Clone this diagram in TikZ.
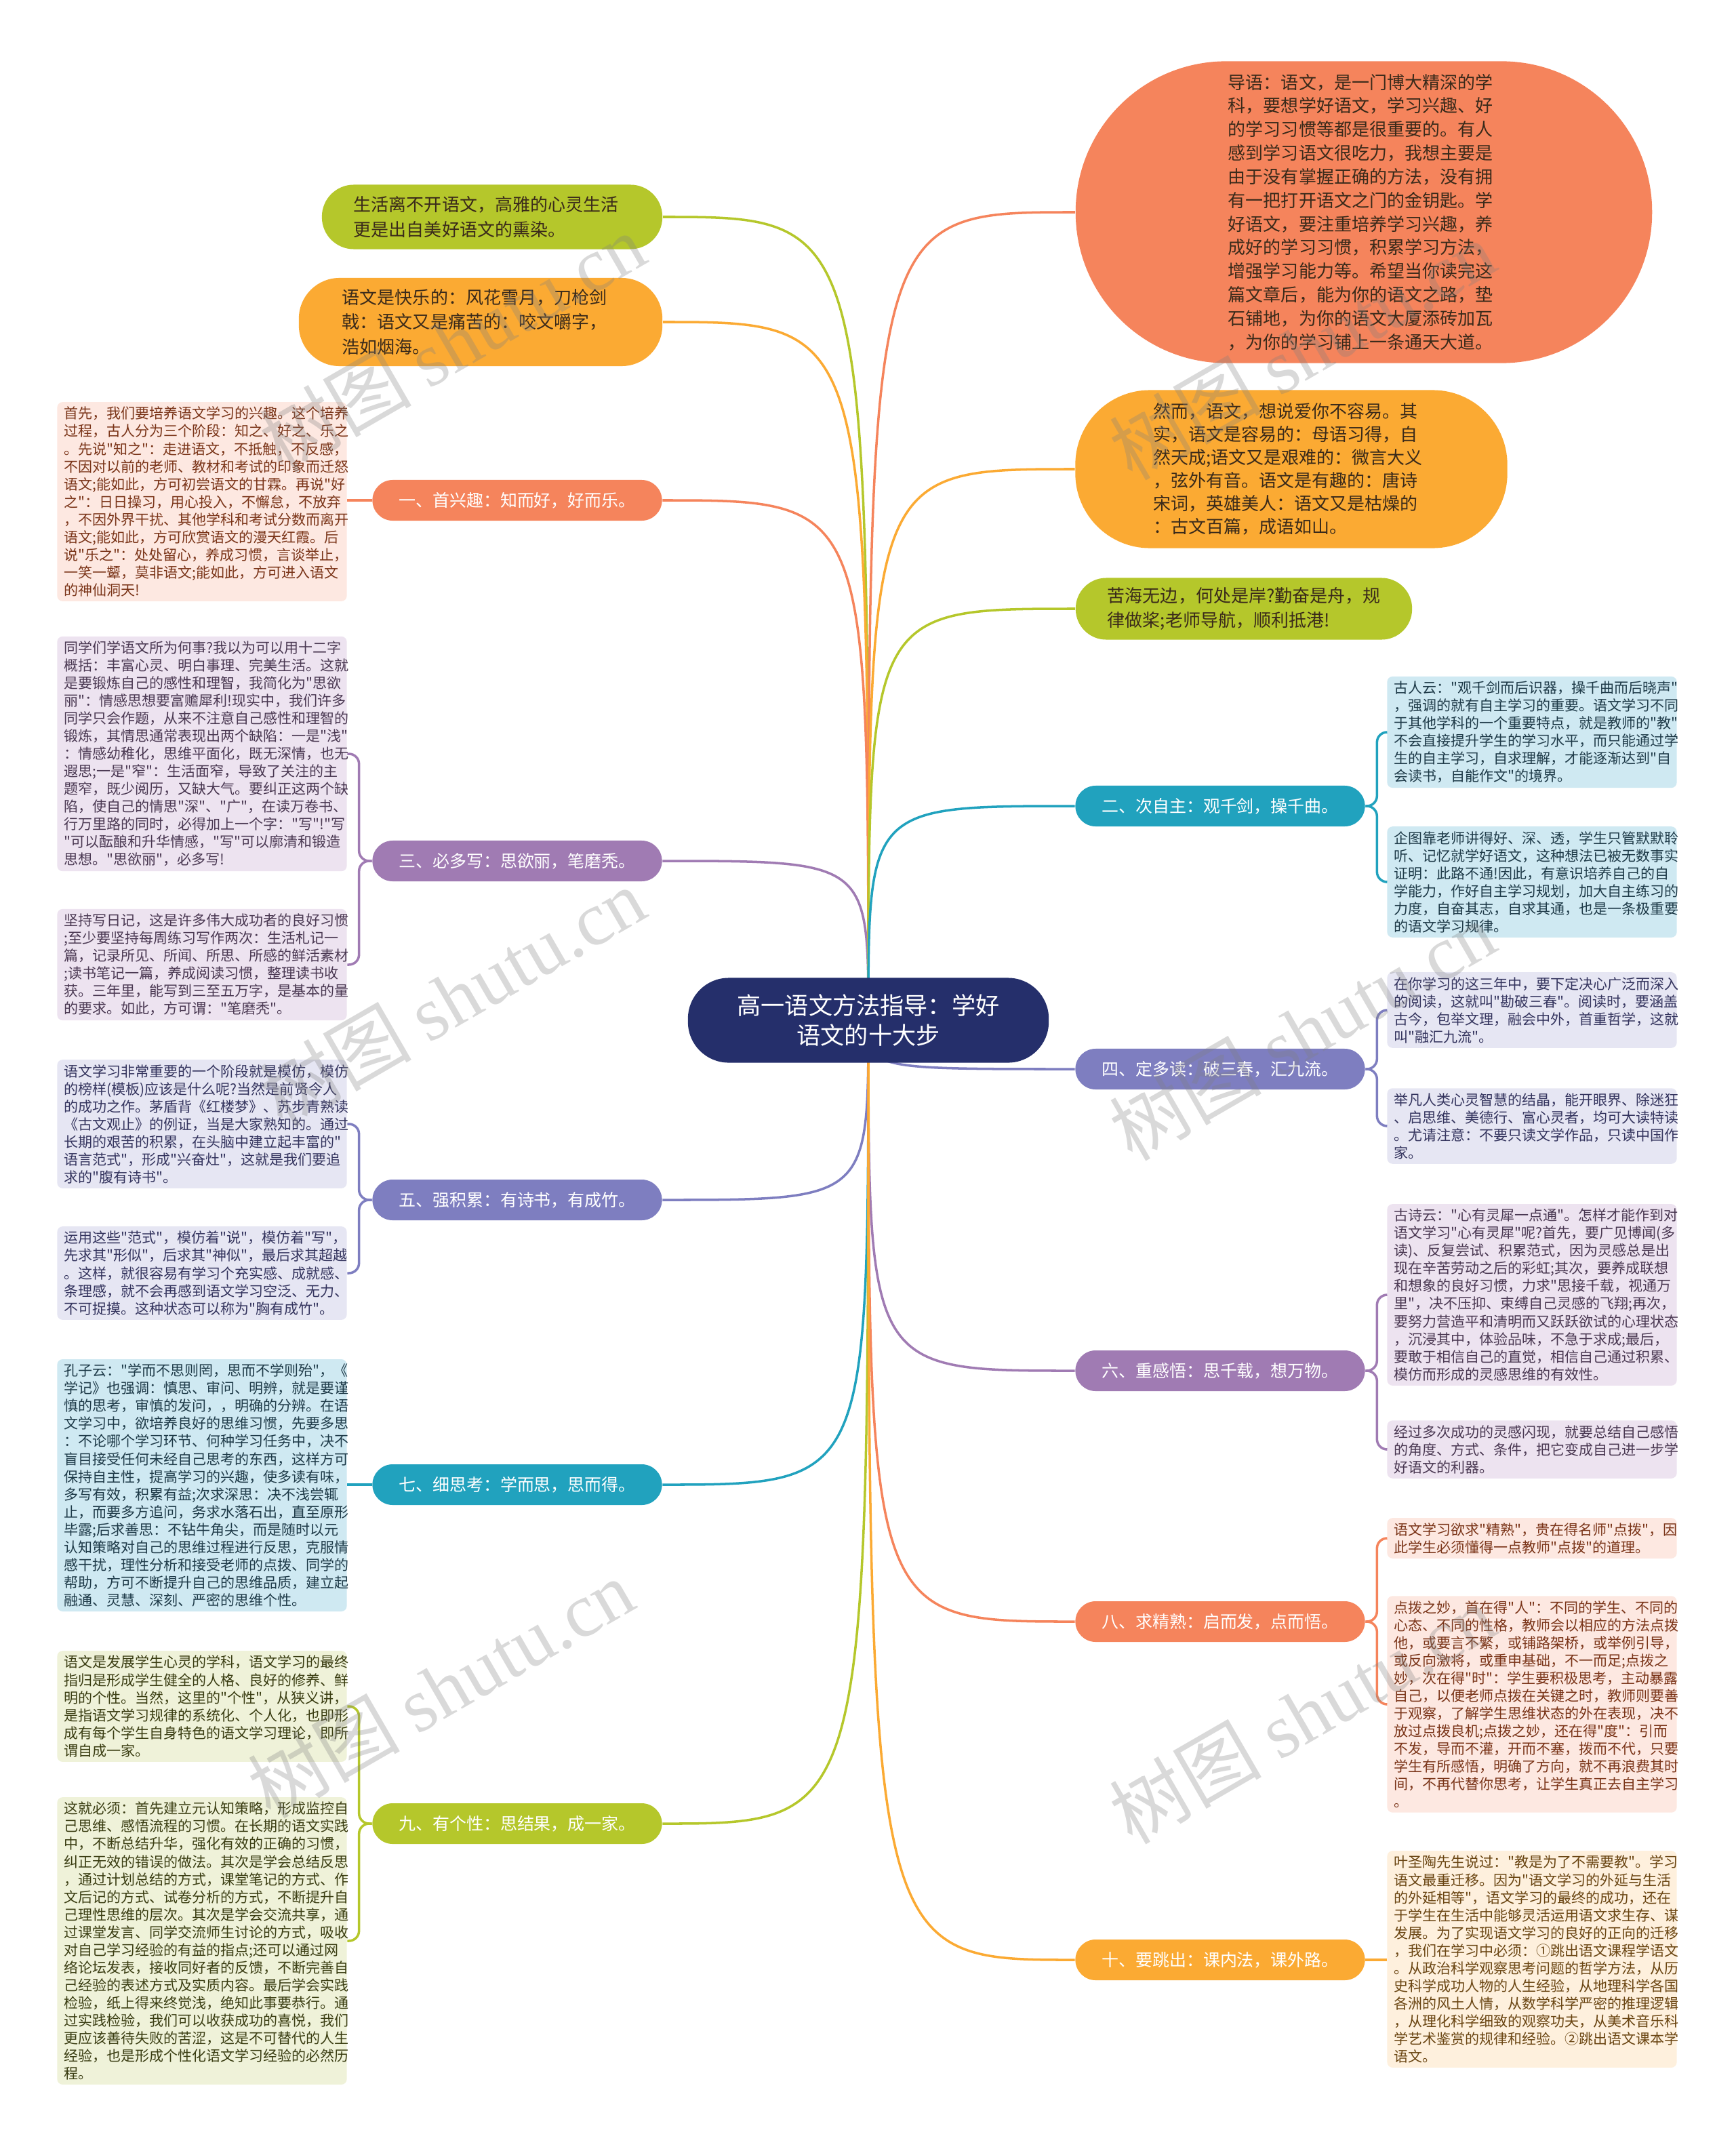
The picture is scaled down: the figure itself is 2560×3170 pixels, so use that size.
\documentclass[tikz,border=0pt]{standalone}
\usepackage{fontspec}
\setmainfont{Noto Sans CJK SC}[Ligatures=TeXOff]
\newfontfamily\markfont{Liberation Serif}
\usetikzlibrary{backgrounds}

\definecolor{cNavy}{HTML}{252F6B}
\definecolor{cCoral}{HTML}{F5845C}
\definecolor{cAmber}{HTML}{FBAA33}
\definecolor{cLime}{HTML}{B5C72B}
\definecolor{cPlum}{HTML}{A07BB3}
\definecolor{cIris}{HTML}{7E7EC0}
\definecolor{cTeal}{HTML}{21A2BE}
\definecolor{lCoral}{HTML}{FDE8E1}
\definecolor{lAmber}{HTML}{FEF0DD}
\definecolor{lLime}{HTML}{EFF2D9}
\definecolor{lPlum}{HTML}{EDE3F0}
\definecolor{lIris}{HTML}{E6E6F3}
\definecolor{lTeal}{HTML}{CFE9F2}
\definecolor{tCoral}{HTML}{7A3418}
\definecolor{tAmber}{HTML}{6A4512}
\definecolor{tLime}{HTML}{3A3D12}
\definecolor{tPlum}{HTML}{4A3852}
\definecolor{tIris}{HTML}{34345E}
\definecolor{tTeal}{HTML}{1E3A48}
\definecolor{tDark}{HTML}{3A2A1A}

\tikzset{
	rootbox/.style = {
		fill=cNavy,
		text=white,
		rounded corners=0.6cm,
		minimum width=5.32cm,
		minimum height=1.25cm,
		align=center,
		font=\fontsize{10pt}{12.5pt}\selectfont
	},
	branch/.style = {
		fill=#1,
		text=white,
		rounded corners=0.3cm,
		minimum width=4.27cm,
		minimum height=0.6cm,
		inner sep=0pt,
		font=\fontsize{7.1pt}{8.5pt}\selectfont
	},
	detail/.style 2 args = {
		fill=#1,
		text=#2,
		rounded corners=0.08cm,
		text width=4.07cm,
		inner xsep=0.1cm,
		inner ysep=0.07cm,
		align=left,
		font=\fontsize{5.98pt}{7.4pt}\selectfont
	},
	bubble/.style = {
		text=tDark,
		align=left,
		font=\fontsize{7.4pt}{10.4pt}\selectfont
	},
	link/.style = {
		draw=#1,
		line width=1pt
	},
	tie/.style = {
		draw=#1,
		line width=1pt,
		rounded corners=0.15cm
	},
	wmark/.style = {
		text=gray,
		text opacity=0.3,
		rotate=30,
		font=\fontsize{32pt}{32pt}\selectfont
	}
}

\begin{document}
\begin{tikzpicture}[x=0.01cm, y=-0.01cm]
	\useasboundingbox (0,0) rectangle (2560,3170);
	
	% --- Tema central ---
	\node [rootbox] (root) at (1281,1505) {高一语文方法指导：学好\\语文的十大步};
	
	% --- Notas sueltas (arriba) ---
	\node [bubble, fill=cLime, rounded corners=0.47cm, text width=4.08cm, inner xsep=0.47cm, minimum height=0.95cm] (life) at (726,320)
	{生活离不开语文，高雅的心灵生活\\更是出自美好语文的熏染。};
	\node [bubble, fill=cAmber, rounded corners=0.6cm, text width=4.08cm, inner xsep=0.64cm, minimum height=1.3cm] (joy) at (709,475)
	{语文是快乐的：风花雪月，刀枪剑\\戟：语文又是痛苦的：咬文嚼字，\\浩如烟海。};
	\node [bubble, fill=cCoral, rounded corners=2.22cm, text width=4.0cm, inner xsep=2.25cm, minimum height=4.45cm, font=\fontsize{7.4pt}{9.9pt}\selectfont] (intro) at (2012,313)
	{导语：语文，是一门博大精深的学\\科，要想学好语文，学习兴趣、好\\的学习习惯等都是很重要的。有人\\感到学习语文很吃力，我想主要是\\由于没有掌握正确的方法，没有拥\\有一把打开语文之门的金钥匙。学\\好语文，要注重培养学习兴趣，养\\成好的学习习惯，积累学习方法，\\增强学习能力等。希望当你读完这\\篇文章后，能为你的语文之路，垫\\石铺地，为你的语文大厦添砖加瓦\\，为你的学习铺上一条通天大道。};
	\node [bubble, fill=cAmber, rounded corners=1.1cm, text width=4.07cm, inner xsep=1.15cm, minimum height=2.33cm, font=\fontsize{7.4pt}{9.7pt}\selectfont] (however) at (1905,692)
	{然而，语文，想说爱你不容易。其\\实，语文是容易的：母语习得，自\\然天成;语文又是艰难的：微言大义\\，弦外有音。语文是有趣的：唐诗\\宋词，英雄美人：语文又是枯燥的\\：古文百篇，成语如山。};
	\node [bubble, fill=cLime, rounded corners=0.45cm, text width=4.02cm, inner xsep=0.47cm, minimum height=0.91cm] (sea) at (1835,898)
	{苦海无边，何处是岸?勤奋是舟，规\\律做桨;老师导航，顺利抵港!};
	
	% --- Ramas izquierda ---
	\node [branch=cCoral] (br1) at (763,738) {一、首兴趣：知而好，好而乐。};
	\node [branch=cPlum] (br3) at (763,1270) {三、必多写：思欲丽，笔磨秃。};
	\node [branch=cIris] (br5) at (763,1770) {五、强积累：有诗书，有成竹。};
	\node [branch=cTeal] (br7) at (763,2190) {七、细思考：学而思，思而得。};
	\node [branch=cLime] (br9) at (763,2690) {九、有个性：思结果，成一家。};
	
	% --- Ramas derecha ---
	\node [branch=cTeal] (br2) at (1800,1189) {二、次自主：观千剑，操千曲。};
	\node [branch=cIris] (br4) at (1800,1577) {四、定多读：破三春，汇九流。};
	\node [branch=cPlum] (br6) at (1800,2022) {六、重感悟：思千载，想万物。};
	\node [branch=cCoral] (br8) at (1800,2392) {八、求精熟：启而发，点而悟。};
	\node [branch=cAmber] (br10) at (1800,2891) {十、要跳出：课内法，课外路。};
	
	% --- Textos de la izquierda ---
	\node [detail={lCoral}{tCoral}] (det1) at (298,740)
	{首先，我们要培养语文学习的兴趣。这个培养\\过程，古人分为三个阶段：知之、好之、乐之\\。先说"知之"：走进语文，不抵触，不反感，\\不因对以前的老师、教材和考试的印象而迁怒\\语文;能如此，方可初尝语文的甘霖。再说"好\\之"：日日操习，用心投入，不懈怠，不放弃\\，不因外界干扰、其他学科和考试分数而离开\\语文;能如此，方可欣赏语文的漫天红霞。后\\说"乐之"：处处留心，养成习惯，言谈举止，\\一笑一颦，莫非语文;能如此，方可进入语文\\的神仙洞天!};
	
	\node [detail={lPlum}{tPlum}] (det3a) at (298,1112)
	{同学们学语文所为何事?我以为可以用十二字\\概括：丰富心灵、明白事理、完美生活。这就\\是要锻炼自己的感性和理智，我简化为"思欲\\丽"：情感思想要富赡犀利!现实中，我们许多\\同学只会作题，从来不注意自己感性和理智的\\锻炼，其情思通常表现出两个缺陷：一是"浅"\\：情感幼稚化，思维平面化，既无深情，也无\\遐思;一是"窄"：生活面窄，导致了关注的主\\题窄，既少阅历，又缺大气。要纠正这两个缺\\陷，使自己的情思"深"、"广"，在读万卷书、\\行万里路的同时，必得加上一个字："写"!"写\\"可以酝酿和升华情感，"写"可以廓清和锻造\\思想。"思欲丽"，必多写!};
	\node [detail={lPlum}{tPlum}] (det3b) at (298,1423)
	{坚持写日记，这是许多伟大成功者的良好习惯\\;至少要坚持每周练习写作两次：生活札记一\\篇，记录所见、所闻、所思、所感的鲜活素材\\;读书笔记一篇，养成阅读习惯，整理读书收\\获。三年里，能写到三至五万字，是基本的量\\的要求。如此，方可谓："笔磨秃"。};
	
	\node [detail={lIris}{tIris}] (det5a) at (298,1658)
	{语文学习非常重要的一个阶段就是模仿，模仿\\的榜样(模板)应该是什么呢?当然是前贤今人\\的成功之作。茅盾背《红楼梦》、苏步青熟读\\《古文观止》的例证，当是大家熟知的。通过\\长期的艰苦的积累，在头脑中建立起丰富的"\\语言范式"，形成"兴奋灶"，这就是我们要追\\求的"腹有诗书"。};
	\node [detail={lIris}{tIris}] (det5b) at (298,1878)
	{运用这些"范式"，模仿着"说"，模仿着"写"，\\先求其"形似"，后求其"神似"，最后求其超越\\。这样，就很容易有学习个充实感、成就感、\\条理感，就不会再感到语文学习空泛、无力、\\不可捉摸。这种状态可以称为"胸有成竹"。};
	
	\node [detail={lTeal}{tTeal}] (det7) at (298,2191)
	{孔子云："学而不思则罔，思而不学则殆"，《\\学记》也强调：慎思、审问、明辨，就是要谨\\慎的思考，审慎的发问，，明确的分辨。在语\\文学习中，欲培养良好的思维习惯，先要多思\\：不论哪个学习环节、何种学习任务中，决不\\盲目接受任何未经自己思考的东西，这样方可\\保持自主性，提高学习的兴趣，使多读有味，\\多写有效，积累有益;次求深思：决不浅尝辄\\止，而要多方追问，务求水落石出，直至原形\\毕露;后求善思：不钻牛角尖，而是随时以元\\认知策略对自己的思维过程进行反思，克服情\\感干扰，理性分析和接受老师的点拨、同学的\\帮助，方可不断提升自己的思维品质，建立起\\融通、灵慧、深刻、严密的思维个性。};
	
	\node [detail={lLime}{tLime}] (det9a) at (298,2517)
	{语文是发展学生心灵的学科，语文学习的最终\\指归是形成学生健全的人格、良好的修养、鲜\\明的个性。当然，这里的"个性"，从狭义讲，\\是指语文学习规律的系统化、个人化，也即形\\成有每个学生自身特色的语文学习理论，即所\\谓自成一家。};
	\node [detail={lLime}{tLime}] (det9b) at (298,2863)
	{这就必须：首先建立元认知策略，形成监控自\\己思维、感悟流程的习惯。在长期的语文实践\\中，不断总结升华，强化有效的正确的习惯，\\纠正无效的错误的做法。其次是学会总结反思\\，通过计划总结的方式，课堂笔记的方式、作\\文后记的方式、试卷分析的方式，不断提升自\\己理性思维的层次。其次是学会交流共享，通\\过课堂发言、同学交流师生讨论的方式，吸收\\对自己学习经验的有益的指点;还可以通过网\\络论坛发表，接收同好者的反馈，不断完善自\\己经验的表述方式及实质内容。最后学会实践\\检验，纸上得来终觉浅，绝知此事要恭行。通\\过实践检验，我们可以收获成功的喜悦，我们\\更应该善待失败的苦涩，这是不可替代的人生\\经验，也是形成个性化语文学习经验的必然历\\程。};
	
	% --- Textos de la derecha ---
	\node [detail={lTeal}{tTeal}] (det2a) at (2260,1080)
	{古人云："观千剑而后识器，操千曲而后晓声"\\，强调的就有自主学习的重要。语文学习不同\\于其他学科的一个重要特点，就是教师的"教"\\不会直接提升学生的学习水平，而只能通过学\\生的自主学习，自求理解，才能逐渐达到"自\\会读书，自能作文"的境界。};
	\node [detail={lTeal}{tTeal}] (det2b) at (2260,1301)
	{企图靠老师讲得好、深、透，学生只管默默聆\\听、记忆就学好语文，这种想法已被无数事实\\证明：此路不通!因此，有意识培养自己的自\\学能力，作好自主学习规划，加大自主练习的\\力度，自奋其志，自求其通，也是一条极重要\\的语文学习规律。};
	
	\node [detail={lIris}{tIris}] (det4a) at (2260,1490)
	{在你学习的这三年中，要下定决心广泛而深入\\的阅读，这就叫"勘破三春"。阅读时，要涵盖\\古今，包举文理，融会中外，首重哲学，这就\\叫"融汇九流"。};
	\node [detail={lIris}{tIris}] (det4b) at (2260,1661)
	{举凡人类心灵智慧的结晶，能开眼界、除迷狂\\、启思维、美德行、富心灵者，均可大读特读\\。尤请注意：不要只读文学作品，只读中国作\\家。};
	
	\node [detail={lPlum}{tPlum}] (det6a) at (2260,1910)
	{古诗云："心有灵犀一点通"。怎样才能作到对\\语文学习"心有灵犀"呢?首先，要广见博闻(多\\读)、反复尝试、积累范式，因为灵感总是出\\现在辛苦劳动之后的彩虹;其次，要养成联想\\和想象的良好习惯，力求"思接千载，视通万\\里"，决不压抑、束缚自己灵感的飞翔;再次，\\要努力营造平和清明而又跃跃欲试的心理状态\\，沉浸其中，体验品味，不急于求成;最后，\\要敢于相信自己的直觉，相信自己通过积累、\\模仿而形成的灵感思维的有效性。};
	\node [detail={lPlum}{tPlum}] (det6b) at (2260,2138)
	{经过多次成功的灵感闪现，就要总结自己感悟\\的角度、方式、条件，把它变成自己进一步学\\好语文的利器。};
	
	\node [detail={lCoral}{tCoral}] (det8a) at (2260,2269)
	{语文学习欲求"精熟"，贵在得名师"点拨"，因\\此学生必须懂得一点教师"点拨"的道理。};
	\node [detail={lCoral}{tCoral}] (det8b) at (2260,2514)
	{点拨之妙，首在得"人"：不同的学生、不同的\\心态、不同的性格，教师会以相应的方法点拨\\他，或要言不繁，或铺路架桥，或举例引导，\\或反向激将，或重申基础，不一而足;点拨之\\妙，次在得"时"：学生要积极思考，主动暴露\\自己，以便老师点拨在关键之时，教师则要善\\于观察，了解学生思维状态的外在表现，决不\\放过点拨良机;点拨之妙，还在得"度"：引而\\不发，导而不灌，开而不塞，拨而不代，只要\\学生有所感悟，明确了方向，就不再浪费其时\\间，不再代替你思考，让学生真正去自主学习\\。};
	
	\node [detail={lAmber}{tAmber}] (det10) at (2260,2890)
	{叶圣陶先生说过："教是为了不需要教"。学习\\语文最重迁移。因为"语文学习的外延与生活\\的外延相等"，语文学习的最终的成功，还在\\于学生在生活中能够灵活运用语文求生存、谋\\发展。为了实现语文学习的良好的正向的迁移\\，我们在学习中必须：①跳出语文课程学语文\\。从政治科学观察思考问题的哲学方法，从历\\史科学成功人物的人生经验，从地理科学各国\\各洲的风土人情，从数学科学严密的推理逻辑\\，从理化科学细致的观察功夫，从美术音乐科\\学艺术鉴赏的规律和经验。②跳出语文课本学\\语文。};
	
	% --- CONEXIONES (detrás de los nodos) ---
	\begin{pgfonlayer}{background}
		% del centro a cada rama
		\draw [link=cLime] (root.center) .. controls (root.center |- life.east) .. (life.east);
		\draw [link=cAmber] (root.center) .. controls (root.center |- joy.east) .. (joy.east);
		\draw [link=cCoral] (root.center) .. controls (root.center |- br1.east) .. (br1.east);
		\draw [link=cPlum] (root.center) .. controls (root.center |- br3.east) .. (br3.east);
		\draw [link=cIris] (root.center) .. controls (root.center |- br5.east) .. (br5.east);
		\draw [link=cTeal] (root.center) .. controls (root.center |- br7.east) .. (br7.east);
		\draw [link=cLime] (root.center) .. controls (root.center |- br9.east) .. (br9.east);
		\draw [link=cCoral] (root.center) .. controls (root.center |- intro.west) .. (intro.west);
		\draw [link=cAmber] (root.center) .. controls (root.center |- however.west) .. (however.west);
		\draw [link=cLime] (root.center) .. controls (root.center |- sea.west) .. (sea.west);
		\draw [link=cTeal] (root.center) .. controls (root.center |- br2.west) .. (br2.west);
		\draw [link=cIris] (root.center) .. controls (root.center |- br4.west) .. (br4.west);
		\draw [link=cPlum] (root.center) .. controls (root.center |- br6.west) .. (br6.west);
		\draw [link=cCoral] (root.center) .. controls (root.center |- br8.west) .. (br8.west);
		\draw [link=cAmber] (root.center) .. controls (root.center |- br10.west) .. (br10.west);
	\end{pgfonlayer}
	
	% de cada rama a sus textos
	\draw [link=cCoral] (br1.west) -- (br1.west -| det1.east);
	\draw [tie=cPlum] (br3.west) -- ++(-19,0) |- (det3a.east);
	\draw [tie=cPlum] (br3.west) -- ++(-19,0) |- (det3b.east);
	\draw [tie=cIris] (br5.west) -- ++(-19,0) |- (det5a.east);
	\draw [tie=cIris] (br5.west) -- ++(-19,0) |- (det5b.east);
	\draw [link=cTeal] (br7.west) -- (br7.west -| det7.east);
	\draw [tie=cLime] (br9.west) -- ++(-19,0) |- (det9a.east);
	\draw [tie=cLime] (br9.west) -- ++(-19,0) |- (det9b.east);
	\draw [tie=cTeal] (br2.east) -- ++(17,0) |- (det2a.west);
	\draw [tie=cTeal] (br2.east) -- ++(17,0) |- (det2b.west);
	\draw [tie=cIris] (br4.east) -- ++(17,0) |- (det4a.west);
	\draw [tie=cIris] (br4.east) -- ++(17,0) |- (det4b.west);
	\draw [tie=cPlum] (br6.east) -- ++(17,0) |- (det6a.west);
	\draw [tie=cPlum] (br6.east) -- ++(17,0) |- (det6b.west);
	\draw [tie=cCoral] (br8.east) -- ++(17,0) |- (det8a.west);
	\draw [tie=cCoral] (br8.east) -- ++(17,0) |- (det8b.west);
	\draw [link=cAmber] (br10.east) -- (br10.east -| det10.west);
	
	% --- Marcas de agua ---
	\node [wmark] (wm1) at (667,505) {树图 {\markfont shutu.cn}};
	\node [wmark] (wm2) at (1921,516) {树图 {\markfont shutu.cn}};
	\node [wmark] (wm3) at (667,1470) {树图 {\markfont shutu.cn}};
	\node [wmark] (wm4) at (1921,1520) {树图 {\markfont shutu.cn}};
	\node [wmark] (wm5) at (650,2490) {树图 {\markfont shutu.cn}};
	\node [wmark] (wm6) at (1921,2528) {树图 {\markfont shutu.cn}};
	
\end{tikzpicture}
\end{document}
